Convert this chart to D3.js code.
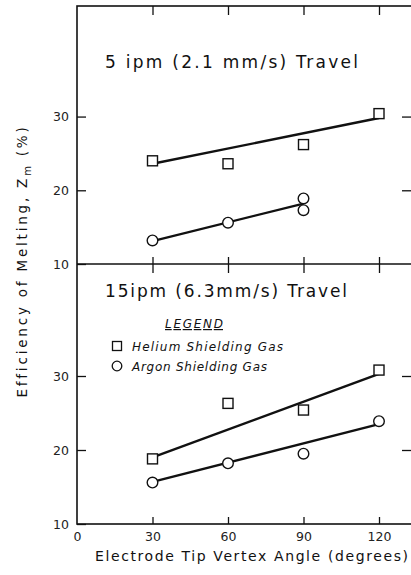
<!DOCTYPE html>
<html>
<head>
<meta charset="utf-8">
<script src="https://cdn.jsdelivr.net/npm/d3@7"></script>
<style>
  body { margin: 0; background: #fff; }
  svg { display: block; }
  .axis path { display: none; }
  .axis line { stroke: #111; stroke-width: 1.3; }
  .axis text { font-family: "DejaVu Sans", sans-serif; font-size: 12.5px; fill: #222; }
</style>
</head>
<body>
<script>
// values
var angles = [30, 60, 90, 120];
var xTicks = [0, 30, 60, 90, 120];
var yTicks = [10, 20, 30];

// 5 ipm travel
var slowHelium = [24.0, 23.6, 26.2, 30.4];
var slowArgonAngles = [30, 60, 90, 90];
var slowArgon = [13.2, 15.6, 18.9, 17.3];
var slowHeliumFit = [[30, 23.6], [120, 29.8]];
var slowArgonFit = [[30, 13.1], [90, 18.2]];

// 15 ipm travel
var fastHelium = [18.8, 26.3, 25.4, 30.8];
var fastArgon = [15.6, 18.2, 19.5, 23.9];
var fastHeliumFit = [[30, 19.0], [120, 30.3]];
var fastArgonFit = [[30, 15.7], [120, 23.5]];

var width = 411, height = 575;
var plotLeft = 77, plotRight = 420, plotTop = 6, plotMid = 264, plotBottom = 524;

var svg = d3.select("body").append("svg")
  .attr("width", width)
  .attr("height", height);

var x = d3.scaleLinear().domain([0, 120]).range([plotLeft, 379]);
var yTop = d3.scaleLinear().domain([10, 45]).range([plotMid, plotTop]);
var yBot = d3.scaleLinear().domain([10, 45]).range([plotBottom, plotMid + 1]);

// frame
svg.append("rect")
  .attr("x", plotLeft).attr("y", plotTop)
  .attr("width", plotRight - plotLeft).attr("height", plotBottom - plotTop)
  .attr("fill", "none").attr("stroke", "#111").attr("stroke-width", 1.6);
svg.append("line")
  .attr("x1", plotLeft).attr("x2", plotRight)
  .attr("y1", plotMid).attr("y2", plotMid)
  .attr("stroke", "#111").attr("stroke-width", 1.6);

// draws the ticks of one panel
function panelAxes(y, y0, y1, showBottomLabels) {
  svg.append("g").attr("class", "axis")
    .attr("transform", "translate(" + plotLeft + ",0)")
    .call(d3.axisLeft(y).tickValues(yTicks).tickSize(-9).tickPadding(8));

  svg.append("g").attr("class", "axis")
    .attr("transform", "translate(411,0)")
    .call(d3.axisRight(y).tickValues([20, 30]).tickSize(-9).tickFormat(""));

  svg.append("g").attr("class", "axis")
    .attr("transform", "translate(0," + y0 + ")")
    .call(d3.axisTop(x).tickValues(angles).tickSize(-9).tickFormat(""));

  var xb = svg.append("g").attr("class", "axis")
    .attr("transform", "translate(0," + y1 + ")")
    .call(d3.axisBottom(x).tickValues(showBottomLabels ? xTicks : angles)
      .tickSize(-7).tickPadding(8).tickFormat(showBottomLabels ? null : ""));
  xb.selectAll(".tick").filter(function(d) { return d === 0; }).select("line").remove();
}

panelAxes(yTop, plotTop, plotMid, false);
panelAxes(yBot, plotMid, plotBottom, true);

// fit lines, squares and circles
function drawSeries(y, heliumFit, argonFit, helium, argonAngles, argon) {
  var line = d3.line().x(function(d) { return x(d[0]); }).y(function(d) { return y(d[1]); });
  [heliumFit, argonFit].forEach(function(fit) {
    svg.append("path").datum(fit)
      .attr("d", line)
      .attr("fill", "none").attr("stroke", "#111").attr("stroke-width", 2.4);
  });

  svg.append("g").selectAll("rect")
    .data(helium)
    .enter().append("rect")
    .attr("x", function(d, i) { return x(angles[i]) - 5; })
    .attr("y", function(d) { return y(d) - 5; })
    .attr("width", 10).attr("height", 10)
    .attr("fill", "#fff").attr("stroke", "#111").attr("stroke-width", 1.4);

  svg.append("g").selectAll("circle")
    .data(argon)
    .enter().append("circle")
    .attr("cx", function(d, i) { return x(argonAngles[i]); })
    .attr("cy", function(d) { return y(d); })
    .attr("r", 5.3)
    .attr("fill", "#fff").attr("stroke", "#111").attr("stroke-width", 1.4);
}

drawSeries(yTop, slowHeliumFit, slowArgonFit, slowHelium, slowArgonAngles, slowArgon);
drawSeries(yBot, fastHeliumFit, fastArgonFit, fastHelium, angles, fastArgon);

// panel titles
svg.append("text")
  .attr("x", 105).attr("y", 68)
  .attr("textLength", 253).attr("lengthAdjust", "spacing")
  .style("font-family", "DejaVu Sans, sans-serif").style("font-size", "17px").style("fill", "#111")
  .text("5 ipm (2.1 mm/s) Travel");
svg.append("text")
  .attr("x", 105).attr("y", 297)
  .attr("textLength", 242).attr("lengthAdjust", "spacing")
  .style("font-family", "DejaVu Sans, sans-serif").style("font-size", "17px").style("fill", "#111")
  .text("15ipm (6.3mm/s) Travel");

// legend
svg.append("text")
  .attr("x", 165).attr("y", 328)
  .attr("textLength", 58)
  .style("font-family", "DejaVu Sans, sans-serif").style("font-size", "12px")
  .style("font-style", "italic").style("text-decoration", "underline").style("fill", "#111")
  .text("LEGEND");

var legendItems = ["Helium Shielding Gas", "Argon Shielding Gas"];
var legend = svg.append("g").selectAll("g")
  .data(legendItems)
  .enter().append("g")
  .attr("transform", function(d, i) { return "translate(117," + (346 + i * 20) + ")"; });
legend.filter(function(d, i) { return i === 0; }).append("rect")
  .attr("x", -4.5).attr("y", -4.5).attr("width", 9).attr("height", 9)
  .attr("fill", "#fff").attr("stroke", "#111").attr("stroke-width", 1.3);
legend.filter(function(d, i) { return i === 1; }).append("circle")
  .attr("r", 4.8)
  .attr("fill", "#fff").attr("stroke", "#111").attr("stroke-width", 1.3);
legend.append("text")
  .attr("x", 15).attr("y", 5)
  .attr("textLength", function(d, i) { return i === 0 ? 151 : 135; })
  .style("font-family", "DejaVu Sans, sans-serif").style("font-size", "12px")
  .style("font-style", "italic").style("fill", "#111")
  .text(function(d) { return d; });

// axis titles
svg.append("text")
  .attr("x", 95).attr("y", 561)
  .attr("textLength", 313).attr("lengthAdjust", "spacing")
  .style("font-family", "DejaVu Sans, sans-serif").style("font-size", "14px").style("fill", "#111")
  .text("Electrode Tip Vertex Angle (degrees)");

var yTitle = svg.append("text")
  .attr("transform", "translate(27,261) rotate(-90)")
  .attr("text-anchor", "middle")
  .style("font-family", "DejaVu Sans, sans-serif").style("font-size", "13.5px")
  .style("letter-spacing", "2.8px").style("fill", "#111");
yTitle.append("tspan").text("Efficiency of Melting, Z");
yTitle.append("tspan").attr("dy", 4).style("font-size", "10px").text("m");
yTitle.append("tspan").attr("dy", -4).text(" (%)");
</script>
</body>
</html>
